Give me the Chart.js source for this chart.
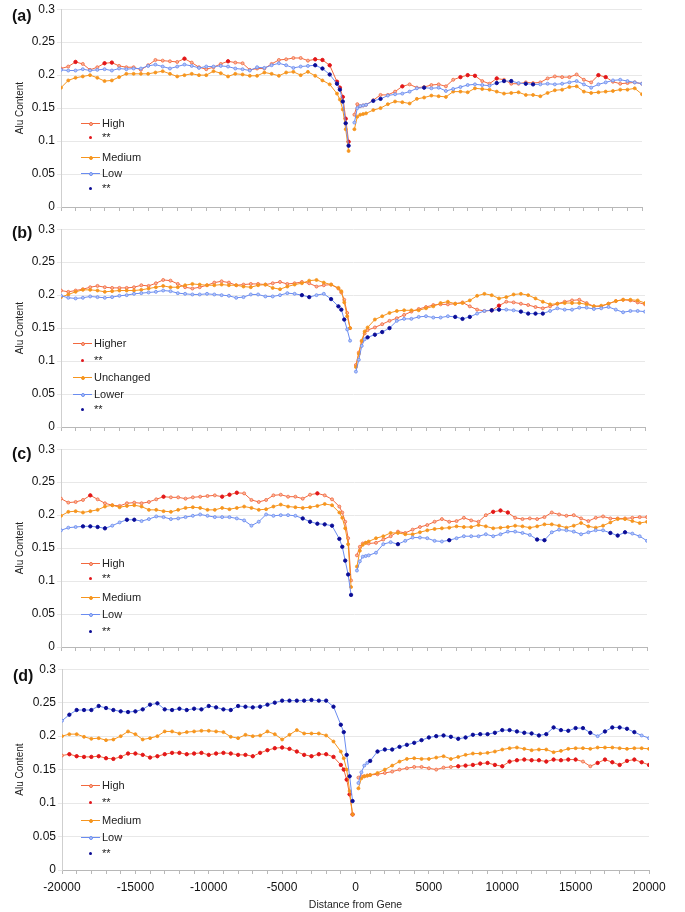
<!DOCTYPE html>
<html>
<head>
<meta charset="utf-8">
<script src="https://cdn.jsdelivr.net/npm/chart.js@4.4.0/dist/chart.umd.min.js"></script>
<style>
  body { margin: 0; background: #fff; font-family: "Liberation Sans", Arial, sans-serif; }
  #wrap { position: relative; width: 685px; height: 912px; overflow: hidden; }
  .abs { position: absolute; }
  .tag { position: absolute; font-weight: bold; font-size: 16px; line-height: 16px; color: #111; }
  .legtxt { position: absolute; font-size: 11px; line-height: 13px; color: #222; white-space: nowrap; }
</style>
</head>
<body>
<div id="wrap"></div>
<script>
// distance from gene (bp), shared by every series; 0 has no value (gap at the gene)
const distance = [
  -20000,-19500,-19000,-18500,-18000,-17500,-17000,-16500,-16000,-15500,
  -15000,-14500,-14000,-13500,-13000,-12500,-12000,-11500,-11000,-10500,
  -10000,-9500,-9000,-8500,-8000,-7500,-7000,-6500,-6000,-5500,
  -5000,-4500,-4000,-3500,-3000,-2500,-2000,-1500,-1000,-800,
  -600,-400,-200,0,200,400,600,800,1000,1500,
  2000,2500,3000,3500,4000,4500,5000,5500,6000,6500,
  7000,7500,8000,8500,9000,9500,10000,10500,11000,11500,
  12000,12500,13000,13500,14000,14500,15000,15500,16000,16500,
  17000,17500,18000,18500,19000,19500,20000
];

// panel (a)
const highA = [
  0.210,0.213,0.220,0.217,0.208,0.212,0.218,0.219,0.214,0.212,
  0.212,0.208,0.215,0.223,0.222,0.221,0.220,0.225,0.219,0.212,
  0.209,0.212,0.217,0.221,0.219,0.218,0.208,0.210,0.210,0.217,
  0.223,0.224,0.226,0.226,0.222,0.224,0.223,0.215,0.190,0.181,
  0.167,0.134,0.099,null,0.140,0.156,0.153,0.154,0.155,0.162,
  0.170,0.170,0.175,0.183,0.186,0.181,0.182,0.185,0.186,0.183,
  0.193,0.197,0.200,0.199,0.191,0.187,0.195,0.193,0.187,0.187,
  0.189,0.188,0.189,0.195,0.198,0.197,0.197,0.201,0.193,0.189,
  0.200,0.197,0.190,0.187,0.188,0.189,0.187
];
const mediumA = [
  0.181,0.192,0.196,0.198,0.200,0.196,0.191,0.192,0.197,0.202,
  0.202,0.202,0.202,0.204,0.206,0.202,0.198,0.200,0.202,0.200,
  0.200,0.206,0.203,0.198,0.202,0.201,0.199,0.199,0.204,0.202,
  0.199,0.204,0.205,0.200,0.205,0.199,0.192,0.186,0.172,0.163,
  0.148,0.118,0.085,null,0.118,0.137,0.140,0.141,0.142,0.147,
  0.150,0.156,0.160,0.159,0.157,0.164,0.166,0.169,0.168,0.167,
  0.175,0.175,0.174,0.180,0.179,0.178,0.175,0.172,0.173,0.174,
  0.170,0.170,0.168,0.173,0.177,0.178,0.182,0.183,0.175,0.173,
  0.174,0.175,0.176,0.178,0.178,0.180,0.171
];
const lowA = [
  0.208,0.207,0.207,0.209,0.207,0.208,0.209,0.207,0.210,0.209,
  0.210,0.210,0.214,0.216,0.213,0.210,0.213,0.216,0.214,0.211,
  0.213,0.213,0.214,0.213,0.210,0.209,0.207,0.212,0.211,0.215,
  0.218,0.215,0.211,0.213,0.214,0.215,0.210,0.201,0.187,0.178,
  0.160,0.127,0.093,null,0.128,0.150,0.153,0.154,0.155,0.161,
  0.164,0.169,0.171,0.172,0.175,0.180,0.181,0.180,0.181,0.176,
  0.179,0.182,0.185,0.186,0.185,0.184,0.188,0.191,0.191,0.188,
  0.187,0.186,0.186,0.187,0.186,0.187,0.189,0.191,0.186,0.181,
  0.186,0.189,0.192,0.193,0.191,0.189,0.187
];
const sigHighA = [[-19000,-19000],[-17000,-16500],[-11500,-11500],[-8500,-8500],[-2500,-200],[3500,3500],[7500,8500],[10000,10000],[17000,17500]];
const sigLowA = [[-2500,-200],[1500,2000],[5000,5000],[10000,11000],[12000,12500]];

// panel (b)
const highB = [
  0.207,0.205,0.207,0.209,0.212,0.214,0.212,0.211,0.211,0.211,
  0.212,0.215,0.214,0.218,0.223,0.222,0.217,0.212,0.210,0.212,
  0.215,0.219,0.221,0.219,0.215,0.216,0.217,0.217,0.216,0.218,
  0.220,0.217,0.218,0.220,0.218,0.213,0.215,0.216,0.210,0.204,
  0.193,0.173,0.150,null,0.094,0.113,0.130,0.142,0.147,0.151,
  0.156,0.161,0.165,0.170,0.175,0.179,0.182,0.185,0.186,0.186,
  0.187,0.189,0.183,0.178,0.176,0.177,0.184,0.190,0.189,0.187,
  0.185,0.182,0.180,0.183,0.187,0.190,0.192,0.193,0.188,0.183,
  0.183,0.187,0.191,0.193,0.192,0.189,0.186
];
const mediumB = [
  0.197,0.201,0.205,0.208,0.208,0.207,0.205,0.206,0.207,0.207,
  0.207,0.208,0.210,0.212,0.214,0.212,0.212,0.215,0.217,0.216,
  0.215,0.215,0.216,0.215,0.215,0.213,0.212,0.215,0.216,0.211,
  0.209,0.213,0.216,0.218,0.222,0.223,0.219,0.216,0.211,0.206,
  0.189,0.168,0.150,null,0.091,0.111,0.131,0.145,0.151,0.163,
  0.168,0.173,0.176,0.177,0.177,0.177,0.180,0.183,0.188,0.190,
  0.187,0.188,0.192,0.199,0.202,0.200,0.195,0.197,0.201,0.202,
  0.200,0.195,0.190,0.186,0.187,0.188,0.188,0.188,0.186,0.183,
  0.184,0.187,0.191,0.193,0.193,0.192,0.188
];
const lowB = [
  0.199,0.196,0.195,0.196,0.198,0.197,0.196,0.197,0.199,0.200,
  0.202,0.203,0.204,0.205,0.207,0.206,0.203,0.202,0.201,0.201,
  0.202,0.201,0.200,0.199,0.196,0.197,0.201,0.201,0.198,0.198,
  0.200,0.203,0.202,0.200,0.197,0.200,0.202,0.194,0.183,0.178,
  0.163,0.148,0.131,null,0.084,0.102,0.123,0.133,0.136,0.140,
  0.144,0.150,0.161,0.164,0.164,0.167,0.168,0.166,0.166,0.168,
  0.167,0.164,0.167,0.172,0.176,0.177,0.178,0.178,0.177,0.175,
  0.172,0.172,0.172,0.176,0.180,0.178,0.178,0.181,0.181,0.179,
  0.180,0.182,0.178,0.174,0.176,0.176,0.175
];
const sigHighB = [[9500,10000]];
const sigLowB = [[-3500,-3000],[-1500,-600],[1000,2500],[7000,8000],[9500,10000],[11500,13000]];

// panel (c)
const highC = [
  0.225,0.219,0.220,0.223,0.230,0.224,0.218,0.215,0.214,0.218,
  0.219,0.218,0.220,0.224,0.228,0.227,0.227,0.225,0.227,0.228,
  0.229,0.230,0.228,0.231,0.234,0.233,0.223,0.220,0.223,0.230,
  0.231,0.228,0.228,0.225,0.231,0.233,0.230,0.224,0.213,0.204,
  0.190,0.165,0.101,null,0.139,0.152,0.157,0.158,0.157,0.158,
  0.163,0.168,0.175,0.173,0.178,0.182,0.185,0.190,0.194,0.190,
  0.191,0.196,0.192,0.190,0.200,0.205,0.207,0.204,0.196,0.194,
  0.195,0.194,0.197,0.204,0.201,0.199,0.200,0.195,0.191,0.196,
  0.198,0.195,0.195,0.195,0.196,0.197,0.197
];
const mediumC = [
  0.199,0.205,0.206,0.204,0.206,0.208,0.213,0.215,0.212,0.214,
  0.215,0.213,0.208,0.208,0.206,0.205,0.208,0.211,0.212,0.211,
  0.208,0.208,0.211,0.209,0.211,0.213,0.211,0.208,0.209,0.213,
  0.216,0.213,0.212,0.211,0.212,0.214,0.217,0.215,0.204,0.196,
  0.180,0.156,0.091,null,0.122,0.146,0.155,0.158,0.160,0.165,
  0.168,0.173,0.173,0.171,0.171,0.174,0.177,0.179,0.180,0.181,
  0.183,0.182,0.182,0.185,0.183,0.180,0.181,0.182,0.184,0.183,
  0.181,0.183,0.186,0.186,0.184,0.181,0.184,0.188,0.183,0.181,
  0.184,0.189,0.194,0.194,0.191,0.188,0.190
];
const lowC = [
  0.177,0.181,0.182,0.183,0.183,0.182,0.180,0.184,0.189,0.193,
  0.193,0.191,0.194,0.198,0.197,0.194,0.195,0.197,0.199,0.201,
  0.199,0.197,0.197,0.197,0.195,0.192,0.184,0.190,0.201,0.199,
  0.200,0.200,0.199,0.195,0.190,0.187,0.186,0.184,0.164,0.152,
  0.131,0.110,0.079,null,0.116,0.130,0.137,0.138,0.139,0.143,
  0.156,0.159,0.156,0.161,0.166,0.166,0.165,0.161,0.160,0.162,
  0.165,0.168,0.168,0.168,0.171,0.168,0.171,0.175,0.175,0.173,
  0.170,0.163,0.162,0.174,0.178,0.177,0.175,0.171,0.174,0.177,
  0.177,0.173,0.169,0.174,0.172,0.168,0.161
];
const sigHighC = [[-18000,-18000],[-13000,-13000],[-9000,-8000],[-2500,-2500],[9500,10500]];
const sigLowC = [[-18500,-17000],[-15500,-15000],[-3500,-200],[3000,3000],[6500,6500],[12500,13000],[17500,18500]];

// panel (d)
const highD = [
  0.171,0.173,0.170,0.169,0.169,0.170,0.167,0.166,0.169,0.174,
  0.174,0.172,0.168,0.170,0.173,0.175,0.175,0.173,0.174,0.175,
  0.172,0.174,0.175,0.174,0.172,0.172,0.170,0.175,0.179,0.182,
  0.183,0.181,0.177,0.172,0.170,0.173,0.173,0.169,0.157,0.150,
  0.135,0.113,0.083,null,0.138,0.140,0.140,0.141,0.142,0.143,
  0.145,0.147,0.150,0.152,0.154,0.154,0.152,0.150,0.153,0.154,
  0.155,0.156,0.157,0.159,0.160,0.157,0.155,0.162,0.164,0.165,
  0.164,0.164,0.162,0.165,0.164,0.165,0.165,0.162,0.155,0.160,
  0.165,0.161,0.157,0.163,0.165,0.161,0.157
];
const mediumD = [
  0.200,0.203,0.203,0.199,0.196,0.197,0.194,0.195,0.200,0.207,
  0.203,0.195,0.197,0.200,0.207,0.207,0.204,0.206,0.207,0.208,
  0.208,0.207,0.206,0.199,0.197,0.202,0.200,0.201,0.207,0.203,
  0.195,0.202,0.209,0.204,0.204,0.204,0.201,0.192,0.177,0.167,
  0.150,0.118,0.083,null,0.122,0.137,0.140,0.141,0.142,0.145,
  0.150,0.156,0.162,0.166,0.167,0.166,0.166,0.168,0.170,0.166,
  0.169,0.172,0.174,0.174,0.175,0.177,0.180,0.182,0.183,0.181,
  0.179,0.180,0.180,0.176,0.178,0.181,0.182,0.182,0.181,0.183,
  0.183,0.183,0.182,0.181,0.182,0.182,0.181
];
const lowD = [
  0.223,0.232,0.239,0.239,0.239,0.245,0.242,0.239,0.237,0.236,
  0.237,0.240,0.247,0.249,0.240,0.239,0.241,0.239,0.241,0.240,
  0.245,0.243,0.240,0.239,0.245,0.244,0.243,0.244,0.247,0.250,
  0.253,0.253,0.253,0.253,0.254,0.253,0.253,0.244,0.217,0.206,
  0.172,0.140,0.103,null,0.130,0.146,0.156,0.160,0.163,0.177,
  0.180,0.180,0.184,0.187,0.190,0.194,0.198,0.200,0.201,0.199,
  0.196,0.198,0.202,0.203,0.203,0.205,0.209,0.209,0.207,0.205,
  0.204,0.201,0.203,0.213,0.209,0.208,0.212,0.212,0.205,0.200,
  0.207,0.213,0.213,0.211,0.206,0.201,0.197
];
const sigHighD = [[-19500,-200],[7000,15000],[16500,20000]];
const sigLowD = [[-19500,-200],[1000,16000],[17000,19000]];

const namesACD = ['High', '**', 'Medium', 'Low', '**'];
const namesB = ['Higher', '**', 'Unchanged', 'Lower', '**'];

const colours = {
  high: '#f2693f', highFill: '#f9b39b', sigHigh: '#e2161c',
  medium: '#f6951e', low: '#6a8cf0', lowFill: '#b3c5f7', sigLow: '#0c0c94'
};

const panels = [
  { tag: '(a)', names: namesACD, high: highA, medium: mediumA, low: lowA, sigHigh: sigHighA, sigLow: sigLowA,
    top: 0, height: 220, padTop: 9, plotBottom: 207, left: 61, right: 642,
    tagPos: [12, 8], leg: { x0: 81, x1: 100, tx: 102, ys: [123, 137, 157, 173, 188] } },
  { tag: '(b)', names: namesB, high: highB, medium: mediumB, low: lowB, sigHigh: sigHighB, sigLow: sigLowB,
    top: 220, height: 220, padTop: 7, plotBottom: 207, left: 61, right: 645,
    tagPos: [12, 225], leg: { x0: 73, x1: 92, tx: 94, ys: [343, 360, 377, 394, 409] } },
  { tag: '(c)', names: namesACD, high: highC, medium: mediumC, low: lowC, sigHigh: sigHighC, sigLow: sigLowC,
    top: 440, height: 220, padTop: 7, plotBottom: 207, left: 61, right: 647,
    tagPos: [12, 446], leg: { x0: 81, x1: 100, tx: 102, ys: [563, 578, 597, 614, 631] } },
  { tag: '(d)', names: namesACD, high: highD, medium: mediumD, low: lowD, sigHigh: sigHighD, sigLow: sigLowD,
    top: 660, height: 252, padTop: 9, plotBottom: 210, left: 62, right: 649,
    tagPos: [13, 668], leg: { x0: 81, x1: 100, tx: 102, ys: [785, 802, 820, 837, 853] } }
];

Chart.defaults.font.family = '"Liberation Sans", Arial, sans-serif';
Chart.defaults.color = '#111';

const wrap = document.getElementById('wrap');

function series(ys) {
  return distance.map((x, i) => ({ x: x, y: ys[i] }));
}
function flagged(ys, ranges) {
  return series(ys).filter(d => d.y !== null && ranges.some(r => d.x >= r[0] && d.x <= r[1]));
}
function addBox(css, cls, text) {
  const el = document.createElement('div');
  el.className = cls || 'abs';
  el.style.cssText = css;
  if (text) el.textContent = text;
  wrap.appendChild(el);
  return el;
}

const legendKinds = [
  { line: true, stroke: colours.high, fill: colours.highFill },
  { line: false, stroke: colours.sigHigh, fill: colours.sigHigh },
  { line: true, stroke: colours.medium, fill: colours.medium },
  { line: true, stroke: colours.low, fill: colours.lowFill },
  { line: false, stroke: colours.sigLow, fill: colours.sigLow }
];

panels.forEach(p => {
  const holder = addBox(`left:0;top:${p.top}px;width:685px;height:${p.height}px`);
  const cv = document.createElement('canvas');
  cv.width = 685;
  cv.height = p.height;
  holder.appendChild(cv);

  const last = p.tag === '(d)';

  new Chart(cv, {
    type: 'line',
    data: {
      datasets: [
        { data: series(p.high), order: 4, borderColor: colours.high,
          pointBackgroundColor: colours.highFill, pointBorderColor: colours.high },
        { data: flagged(p.high, p.sigHigh), order: 3, showLine: false, pointRadius: 1.7,
          pointBackgroundColor: colours.sigHigh, pointBorderColor: colours.sigHigh },
        { data: series(p.medium), order: 2, borderColor: colours.medium,
          pointBackgroundColor: colours.medium, pointBorderColor: colours.medium },
        { data: series(p.low), order: 1, borderColor: colours.low,
          pointBackgroundColor: colours.lowFill, pointBorderColor: colours.low },
        { data: flagged(p.low, p.sigLow), order: 0, showLine: false, pointRadius: 1.7,
          pointBackgroundColor: colours.sigLow, pointBorderColor: colours.sigLow }
      ]
    },
    options: {
      responsive: false,
      animation: false,
      spanGaps: false,
      events: [],
      elements: {
        line: { borderWidth: 1, tension: 0, fill: false },
        point: { radius: 1.5, borderWidth: 0.8, hoverRadius: 1.5 }
      },
      layout: { padding: { top: p.padTop, right: 685 - p.right, left: 0, bottom: 0 } },
      plugins: { legend: { display: false }, tooltip: { enabled: false } },
      scales: {
        x: {
          type: 'linear', min: -20000, max: 20000,
          afterFit: s => { s.height = p.height - p.plotBottom; },
          border: { color: '#b8b8b8' },
          grid: { drawOnChartArea: false, drawTicks: true, tickLength: 4, color: '#b8b8b8' },
          ticks: {
            stepSize: 1000, autoSkip: false, maxRotation: 0, minRotation: 0, padding: 6,
            font: { size: 12 }, color: '#111',
            callback: v => (last && v % 5000 === 0) ? String(v) : ''
          },
          title: { display: last, text: 'Distance from Gene', font: { size: 10.5 }, color: '#222',
                   padding: { top: 0, bottom: 0.5 } }
        },
        y: {
          min: 0, max: 0.3,
          afterFit: s => { s.width = p.left; },
          border: { color: '#cfcfcf' },
          grid: { color: '#e8e8e8', tickLength: 4 },
          ticks: { stepSize: 0.05, padding: 2, font: { size: 12 }, color: '#111',
                   callback: v => String(+v.toFixed(2)) },
          title: { display: true, text: 'Alu Content', font: { size: 10 }, color: '#222',
                   padding: { top: 14, bottom: 0 } }
        }
      }
    }
  });

  // panel letter
  addBox(`left:${p.tagPos[0]}px;top:${p.tagPos[1]}px`, 'tag', p.tag);

  // legend inside the plot, bottom left
  const L = p.leg;
  L.ys.forEach((y, i) => {
    const k = legendKinds[i];
    const cx = Math.round((L.x0 + L.x1) / 2);
    if (k.line) {
      addBox(`left:${L.x0}px;top:${y}px;width:${L.x1 - L.x0}px;height:1px;background:${k.stroke}`);
      addBox(`left:${cx - 2}px;top:${y - 1}px;width:2px;height:2px;border-radius:50%;` +
             `background:${k.fill};border:1px solid ${k.stroke}`);
    } else {
      addBox(`left:${cx - 2}px;top:${y - 1}px;width:3px;height:3px;border-radius:50%;background:${k.fill}`);
    }
    addBox(`left:${L.tx}px;top:${y - 6}px`, 'legtxt', p.names[i]);
  });
});
</script>
</body>
</html>
